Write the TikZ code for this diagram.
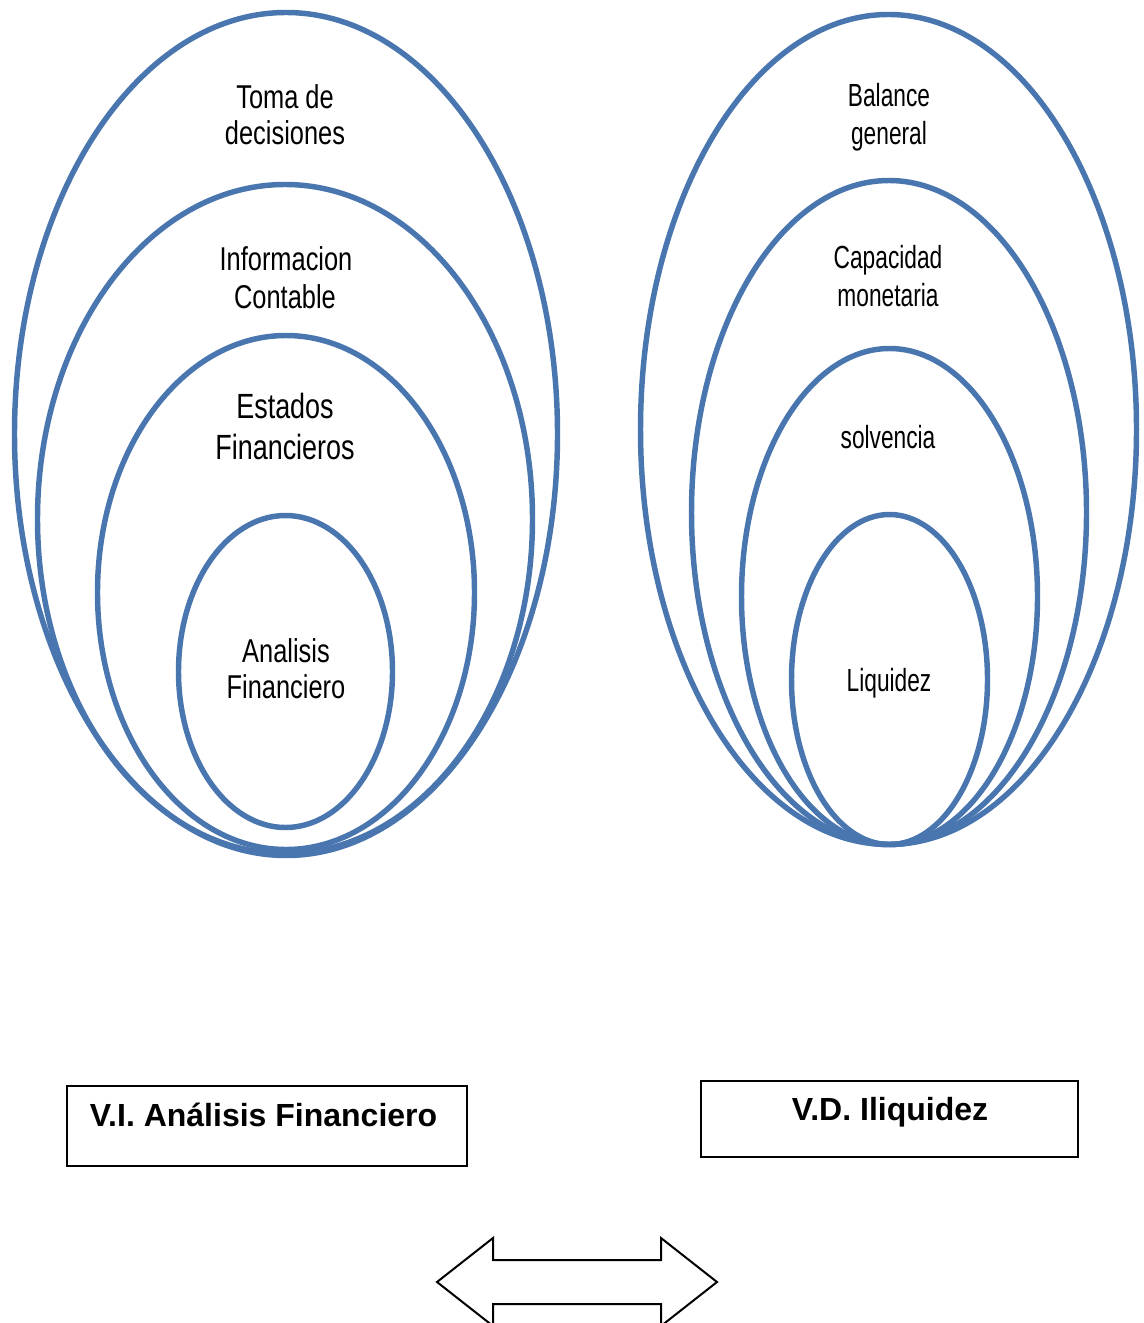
\documentclass[tikz,border=0pt]{standalone}
\usepackage{fontspec}
\setmainfont{Liberation Sans}
\newfontfamily\leftfam[FakeStretch=0.77]{Liberation Sans}
\newfontfamily\rightfam[FakeStretch=0.71]{Liberation Sans}
\definecolor{ringblue}{RGB}{74,118,176}
\tikzset{
  ring/.style={draw=ringblue, line width=4.1pt},
  lefttxt/.style={anchor=base, inner sep=0pt, font=\leftfam\fontsize{24.75}{28}\selectfont},
  bigtxt/.style={anchor=base, inner sep=0pt, font=\leftfam\fontsize{26.25}{30}\selectfont},
  righttxt/.style={anchor=base, inner sep=0pt, font=\rightfam\fontsize{24}{28}\selectfont},
  varbox/.style={draw=black, line width=1.5pt},
  vartxt/.style={anchor=base, inner sep=0pt, font=\bfseries\fontsize{24}{27}\selectfont},
  arrowshape/.style={draw=black, line width=1.5pt, line join=miter, fill=white}
}
\begin{document}
\begin{tikzpicture}[x=0.75pt,y=-0.75pt]
  \useasboundingbox (0,0) rectangle (1143,1323);
  \clip (0,0) rectangle (1143,1323);

  % nested rings, independent variable
  \draw[ring] (286,434) ellipse [x radius=271.5, y radius=421.5];
  \draw[ring] (285,519) ellipse [x radius=247.5, y radius=334.5];
  \draw[ring] (286,592.5) ellipse [x radius=188.5, y radius=257];
  \draw[ring] (285.5,671.5) ellipse [x radius=107, y radius=156];

  \node[lefttxt] (tomaA) at (285,109) {Toma de};
  \node[lefttxt] (tomaB) at (285,145) {decisiones};
  \node[lefttxt] (infoA) at (286,271) {Informacion};
  \node[lefttxt] (infoB) at (285,308) {Contable};
  \node[bigtxt]  (estA)  at (285,418) {Estados};
  \node[bigtxt]  (estB)  at (285,459) {Financieros};
  \node[lefttxt] (anaA)  at (286,662) {Analisis};
  \node[lefttxt] (anaB)  at (286,698) {Financiero};

  % nested rings, dependent variable
  \draw[ring] (888.5,429.5) ellipse [x radius=248, y radius=415];
  \draw[ring] (889,512.5) ellipse [x radius=197.5, y radius=332];
  \draw[ring] (889.5,596.5) ellipse [x radius=148, y radius=248];
  \draw[ring] (889.5,679.5) ellipse [x radius=98, y radius=165];

  \node[righttxt] (balA) at (889,107) {Balance};
  \node[righttxt] (balB) at (889,145) {general};
  \node[righttxt] (capA) at (888,268) {Capacidad};
  \node[righttxt] (capB) at (888,306) {monetaria};
  \node[righttxt] (solv) at (888,448) {solvencia};
  \node[righttxt] (liq)  at (889,691) {Liquidez};

  % variable boxes
  \draw[varbox] (67,1086) rectangle (467,1166);
  \node[vartxt] (vi) at (263.5,1126) {V.I. Análisis Financiero};
  \draw[varbox] (701,1081) rectangle (1078,1157);
  \node[vartxt] (vd) at (890,1120) {V.D. Iliquidez};

  % double-headed block arrow
  \draw[arrowshape] (437,1282) -- (493,1238) -- (493,1260) -- (661,1260)
    -- (661,1238) -- (717,1282) -- (661,1326) -- (661,1304)
    -- (493,1304) -- (493,1326) -- cycle;
\end{tikzpicture}
\end{document}
